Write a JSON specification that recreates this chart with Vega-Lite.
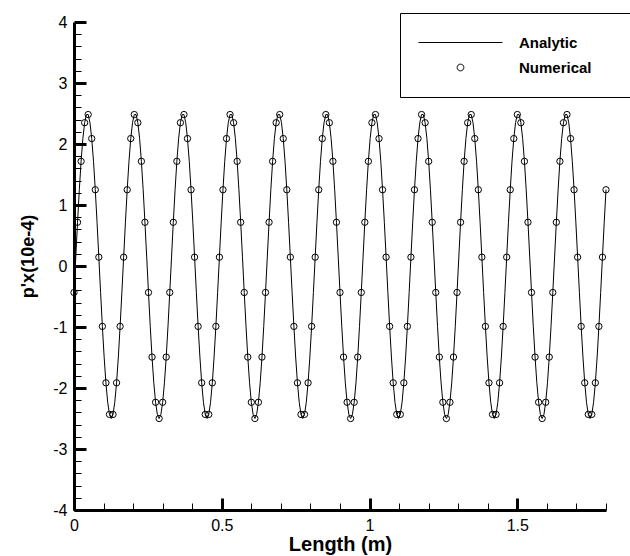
{
  "$schema": "https://vega.github.io/schema/vega-lite/v6.json",
  "width": 532,
  "height": 488,
  "autosize": {"type": "none"},
  "padding": {"left": 74, "top": 22, "right": 24, "bottom": 46},
  "background": "white",
  "config": {"view": {"stroke": null}, "font": "Liberation Sans"},
  "datasets": {
    "analytic": [
      {"x":0,"y":-0.434},{"x":0.006,"y":0.145},{"x":0.012,"y":0.717},{"x":0.018,"y":1.25},{"x":0.024,"y":1.716},{"x":0.03,"y":2.089},{"x":0.036,"y":2.349},{"x":0.042,"y":2.483},{"x":0.048,"y":2.483},{"x":0.054,"y":2.349},{"x":0.06,"y":2.089},{"x":0.066,"y":1.716},{"x":0.072,"y":1.25},{"x":0.078,"y":0.717},{"x":0.084,"y":0.145},{"x":0.09,"y":-0.434},{"x":0.096,"y":-0.99},{"x":0.102,"y":-1.493},{"x":0.108,"y":-1.915},{"x":0.114,"y":-2.234},{"x":0.12,"y":-2.433},{"x":0.126,"y":-2.5},{"x":0.132,"y":-2.433},{"x":0.138,"y":-2.234},{"x":0.144,"y":-1.915},{"x":0.15,"y":-1.493},{"x":0.156,"y":-0.99},
      {"x":0.162,"y":-0.434},{"x":0.168,"y":0.145},{"x":0.174,"y":0.717},{"x":0.18,"y":1.25},{"x":0.186,"y":1.716},{"x":0.192,"y":2.089},{"x":0.198,"y":2.349},{"x":0.204,"y":2.483},{"x":0.21,"y":2.483},{"x":0.216,"y":2.349},{"x":0.222,"y":2.089},{"x":0.228,"y":1.716},{"x":0.234,"y":1.25},{"x":0.24,"y":0.717},{"x":0.246,"y":0.145},{"x":0.252,"y":-0.434},{"x":0.258,"y":-0.99},{"x":0.264,"y":-1.493},{"x":0.27,"y":-1.915},{"x":0.276,"y":-2.234},{"x":0.282,"y":-2.433},{"x":0.288,"y":-2.5},{"x":0.294,"y":-2.433},{"x":0.3,"y":-2.234},{"x":0.306,"y":-1.915},{"x":0.312,"y":-1.493},{"x":0.318,"y":-0.99},
      {"x":0.324,"y":-0.434},{"x":0.33,"y":0.145},{"x":0.336,"y":0.717},{"x":0.342,"y":1.25},{"x":0.348,"y":1.716},{"x":0.354,"y":2.089},{"x":0.36,"y":2.349},{"x":0.366,"y":2.483},{"x":0.372,"y":2.483},{"x":0.378,"y":2.349},{"x":0.384,"y":2.089},{"x":0.39,"y":1.716},{"x":0.396,"y":1.25},{"x":0.402,"y":0.717},{"x":0.408,"y":0.145},{"x":0.414,"y":-0.434},{"x":0.42,"y":-0.99},{"x":0.426,"y":-1.493},{"x":0.432,"y":-1.915},{"x":0.438,"y":-2.234},{"x":0.444,"y":-2.433},{"x":0.45,"y":-2.5},{"x":0.456,"y":-2.433},{"x":0.462,"y":-2.234},{"x":0.468,"y":-1.915},{"x":0.474,"y":-1.493},{"x":0.48,"y":-0.99},
      {"x":0.486,"y":-0.434},{"x":0.492,"y":0.145},{"x":0.498,"y":0.717},{"x":0.504,"y":1.25},{"x":0.51,"y":1.716},{"x":0.516,"y":2.089},{"x":0.522,"y":2.349},{"x":0.528,"y":2.483},{"x":0.534,"y":2.483},{"x":0.54,"y":2.349},{"x":0.546,"y":2.089},{"x":0.552,"y":1.716},{"x":0.558,"y":1.25},{"x":0.564,"y":0.717},{"x":0.57,"y":0.145},{"x":0.576,"y":-0.434},{"x":0.582,"y":-0.99},{"x":0.588,"y":-1.493},{"x":0.594,"y":-1.915},{"x":0.6,"y":-2.234},{"x":0.606,"y":-2.433},{"x":0.612,"y":-2.5},{"x":0.618,"y":-2.433},{"x":0.624,"y":-2.234},{"x":0.63,"y":-1.915},{"x":0.636,"y":-1.493},{"x":0.642,"y":-0.99},
      {"x":0.648,"y":-0.434},{"x":0.654,"y":0.145},{"x":0.66,"y":0.717},{"x":0.666,"y":1.25},{"x":0.672,"y":1.716},{"x":0.678,"y":2.089},{"x":0.684,"y":2.349},{"x":0.69,"y":2.483},{"x":0.696,"y":2.483},{"x":0.702,"y":2.349},{"x":0.708,"y":2.089},{"x":0.714,"y":1.716},{"x":0.72,"y":1.25},{"x":0.726,"y":0.717},{"x":0.732,"y":0.145},{"x":0.738,"y":-0.434},{"x":0.744,"y":-0.99},{"x":0.75,"y":-1.493},{"x":0.756,"y":-1.915},{"x":0.762,"y":-2.234},{"x":0.768,"y":-2.433},{"x":0.774,"y":-2.5},{"x":0.78,"y":-2.433},{"x":0.786,"y":-2.234},{"x":0.792,"y":-1.915},{"x":0.798,"y":-1.493},{"x":0.804,"y":-0.99},
      {"x":0.81,"y":-0.434},{"x":0.816,"y":0.145},{"x":0.822,"y":0.717},{"x":0.828,"y":1.25},{"x":0.834,"y":1.716},{"x":0.84,"y":2.089},{"x":0.846,"y":2.349},{"x":0.852,"y":2.483},{"x":0.858,"y":2.483},{"x":0.864,"y":2.349},{"x":0.87,"y":2.089},{"x":0.876,"y":1.716},{"x":0.882,"y":1.25},{"x":0.888,"y":0.717},{"x":0.894,"y":0.145},{"x":0.9,"y":-0.434},{"x":0.906,"y":-0.99},{"x":0.912,"y":-1.493},{"x":0.918,"y":-1.915},{"x":0.924,"y":-2.234},{"x":0.93,"y":-2.433},{"x":0.936,"y":-2.5},{"x":0.942,"y":-2.433},{"x":0.948,"y":-2.234},{"x":0.954,"y":-1.915},{"x":0.96,"y":-1.493},{"x":0.966,"y":-0.99},
      {"x":0.972,"y":-0.434},{"x":0.978,"y":0.145},{"x":0.984,"y":0.717},{"x":0.99,"y":1.25},{"x":0.996,"y":1.716},{"x":1.002,"y":2.089},{"x":1.008,"y":2.349},{"x":1.014,"y":2.483},{"x":1.02,"y":2.483},{"x":1.026,"y":2.349},{"x":1.032,"y":2.089},{"x":1.038,"y":1.716},{"x":1.044,"y":1.25},{"x":1.05,"y":0.717},{"x":1.056,"y":0.145},{"x":1.062,"y":-0.434},{"x":1.068,"y":-0.99},{"x":1.074,"y":-1.493},{"x":1.08,"y":-1.915},{"x":1.086,"y":-2.234},{"x":1.092,"y":-2.433},{"x":1.098,"y":-2.5},{"x":1.104,"y":-2.433},{"x":1.11,"y":-2.234},{"x":1.116,"y":-1.915},{"x":1.122,"y":-1.493},{"x":1.128,"y":-0.99},
      {"x":1.134,"y":-0.434},{"x":1.14,"y":0.145},{"x":1.146,"y":0.717},{"x":1.152,"y":1.25},{"x":1.158,"y":1.716},{"x":1.164,"y":2.089},{"x":1.17,"y":2.349},{"x":1.176,"y":2.483},{"x":1.182,"y":2.483},{"x":1.188,"y":2.349},{"x":1.194,"y":2.089},{"x":1.2,"y":1.716},{"x":1.206,"y":1.25},{"x":1.212,"y":0.717},{"x":1.218,"y":0.145},{"x":1.224,"y":-0.434},{"x":1.23,"y":-0.99},{"x":1.236,"y":-1.493},{"x":1.242,"y":-1.915},{"x":1.248,"y":-2.234},{"x":1.254,"y":-2.433},{"x":1.26,"y":-2.5},{"x":1.266,"y":-2.433},{"x":1.272,"y":-2.234},{"x":1.278,"y":-1.915},{"x":1.284,"y":-1.493},{"x":1.29,"y":-0.99},
      {"x":1.296,"y":-0.434},{"x":1.302,"y":0.145},{"x":1.308,"y":0.717},{"x":1.314,"y":1.25},{"x":1.32,"y":1.716},{"x":1.326,"y":2.089},{"x":1.332,"y":2.349},{"x":1.338,"y":2.483},{"x":1.344,"y":2.483},{"x":1.35,"y":2.349},{"x":1.356,"y":2.089},{"x":1.362,"y":1.716},{"x":1.368,"y":1.25},{"x":1.374,"y":0.717},{"x":1.38,"y":0.145},{"x":1.386,"y":-0.434},{"x":1.392,"y":-0.99},{"x":1.398,"y":-1.493},{"x":1.404,"y":-1.915},{"x":1.41,"y":-2.234},{"x":1.416,"y":-2.433},{"x":1.422,"y":-2.5},{"x":1.428,"y":-2.433},{"x":1.434,"y":-2.234},{"x":1.44,"y":-1.915},{"x":1.446,"y":-1.493},{"x":1.452,"y":-0.99},
      {"x":1.458,"y":-0.434},{"x":1.464,"y":0.145},{"x":1.47,"y":0.717},{"x":1.476,"y":1.25},{"x":1.482,"y":1.716},{"x":1.488,"y":2.089},{"x":1.494,"y":2.349},{"x":1.5,"y":2.483},{"x":1.506,"y":2.483},{"x":1.512,"y":2.349},{"x":1.518,"y":2.089},{"x":1.524,"y":1.716},{"x":1.53,"y":1.25},{"x":1.536,"y":0.717},{"x":1.542,"y":0.145},{"x":1.548,"y":-0.434},{"x":1.554,"y":-0.99},{"x":1.56,"y":-1.493},{"x":1.566,"y":-1.915},{"x":1.572,"y":-2.234},{"x":1.578,"y":-2.433},{"x":1.584,"y":-2.5},{"x":1.59,"y":-2.433},{"x":1.596,"y":-2.234},{"x":1.602,"y":-1.915},{"x":1.608,"y":-1.493},{"x":1.614,"y":-0.99},
      {"x":1.62,"y":-0.434},{"x":1.626,"y":0.145},{"x":1.632,"y":0.717},{"x":1.638,"y":1.25},{"x":1.644,"y":1.716},{"x":1.65,"y":2.089},{"x":1.656,"y":2.349},{"x":1.662,"y":2.483},{"x":1.668,"y":2.483},{"x":1.674,"y":2.349},{"x":1.68,"y":2.089},{"x":1.686,"y":1.716},{"x":1.692,"y":1.25},{"x":1.698,"y":0.717},{"x":1.704,"y":0.145},{"x":1.71,"y":-0.434},{"x":1.716,"y":-0.99},{"x":1.722,"y":-1.493},{"x":1.728,"y":-1.915},{"x":1.734,"y":-2.234},{"x":1.74,"y":-2.433},{"x":1.746,"y":-2.5},{"x":1.752,"y":-2.433},{"x":1.758,"y":-2.234},{"x":1.764,"y":-1.915},{"x":1.77,"y":-1.493},{"x":1.776,"y":-0.99},
      {"x":1.782,"y":-0.434},{"x":1.788,"y":0.145},{"x":1.794,"y":0.717},{"x":1.8,"y":1.25}
    ],
    "numerical": [
      {"x":0,"y":-0.434},{"x":0.012,"y":0.717},{"x":0.024,"y":1.716},{"x":0.036,"y":2.349},{"x":0.048,"y":2.483},{"x":0.06,"y":2.089},{"x":0.072,"y":1.25},{"x":0.084,"y":0.145},{"x":0.096,"y":-0.99},{"x":0.108,"y":-1.915},{"x":0.12,"y":-2.433},{"x":0.132,"y":-2.433},{"x":0.144,"y":-1.915},{"x":0.156,"y":-0.99},{"x":0.168,"y":0.145},{"x":0.18,"y":1.25},{"x":0.192,"y":2.089},{"x":0.204,"y":2.483},{"x":0.216,"y":2.349},{"x":0.228,"y":1.716},{"x":0.24,"y":0.717},{"x":0.252,"y":-0.434},{"x":0.264,"y":-1.493},{"x":0.276,"y":-2.234},{"x":0.288,"y":-2.5},{"x":0.3,"y":-2.234},{"x":0.312,"y":-1.493},
      {"x":0.324,"y":-0.434},{"x":0.336,"y":0.717},{"x":0.348,"y":1.716},{"x":0.36,"y":2.349},{"x":0.372,"y":2.483},{"x":0.384,"y":2.089},{"x":0.396,"y":1.25},{"x":0.408,"y":0.145},{"x":0.42,"y":-0.99},{"x":0.432,"y":-1.915},{"x":0.444,"y":-2.433},{"x":0.456,"y":-2.433},{"x":0.468,"y":-1.915},{"x":0.48,"y":-0.99},{"x":0.492,"y":0.145},{"x":0.504,"y":1.25},{"x":0.516,"y":2.089},{"x":0.528,"y":2.483},{"x":0.54,"y":2.349},{"x":0.552,"y":1.716},{"x":0.564,"y":0.717},{"x":0.576,"y":-0.434},{"x":0.588,"y":-1.493},{"x":0.6,"y":-2.234},{"x":0.612,"y":-2.5},{"x":0.624,"y":-2.234},{"x":0.636,"y":-1.493},
      {"x":0.648,"y":-0.434},{"x":0.66,"y":0.717},{"x":0.672,"y":1.716},{"x":0.684,"y":2.349},{"x":0.696,"y":2.483},{"x":0.708,"y":2.089},{"x":0.72,"y":1.25},{"x":0.732,"y":0.145},{"x":0.744,"y":-0.99},{"x":0.756,"y":-1.915},{"x":0.768,"y":-2.433},{"x":0.78,"y":-2.433},{"x":0.792,"y":-1.915},{"x":0.804,"y":-0.99},{"x":0.816,"y":0.145},{"x":0.828,"y":1.25},{"x":0.84,"y":2.089},{"x":0.852,"y":2.483},{"x":0.864,"y":2.349},{"x":0.876,"y":1.716},{"x":0.888,"y":0.717},{"x":0.9,"y":-0.434},{"x":0.912,"y":-1.493},{"x":0.924,"y":-2.234},{"x":0.936,"y":-2.5},{"x":0.948,"y":-2.234},{"x":0.96,"y":-1.493},
      {"x":0.972,"y":-0.434},{"x":0.984,"y":0.717},{"x":0.996,"y":1.716},{"x":1.008,"y":2.349},{"x":1.02,"y":2.483},{"x":1.032,"y":2.089},{"x":1.044,"y":1.25},{"x":1.056,"y":0.145},{"x":1.068,"y":-0.99},{"x":1.08,"y":-1.915},{"x":1.092,"y":-2.433},{"x":1.104,"y":-2.433},{"x":1.116,"y":-1.915},{"x":1.128,"y":-0.99},{"x":1.14,"y":0.145},{"x":1.152,"y":1.25},{"x":1.164,"y":2.089},{"x":1.176,"y":2.483},{"x":1.188,"y":2.349},{"x":1.2,"y":1.716},{"x":1.212,"y":0.717},{"x":1.224,"y":-0.434},{"x":1.236,"y":-1.493},{"x":1.248,"y":-2.234},{"x":1.26,"y":-2.5},{"x":1.272,"y":-2.234},{"x":1.284,"y":-1.493},
      {"x":1.296,"y":-0.434},{"x":1.308,"y":0.717},{"x":1.32,"y":1.716},{"x":1.332,"y":2.349},{"x":1.344,"y":2.483},{"x":1.356,"y":2.089},{"x":1.368,"y":1.25},{"x":1.38,"y":0.145},{"x":1.392,"y":-0.99},{"x":1.404,"y":-1.915},{"x":1.416,"y":-2.433},{"x":1.428,"y":-2.433},{"x":1.44,"y":-1.915},{"x":1.452,"y":-0.99},{"x":1.464,"y":0.145},{"x":1.476,"y":1.25},{"x":1.488,"y":2.089},{"x":1.5,"y":2.483},{"x":1.512,"y":2.349},{"x":1.524,"y":1.716},{"x":1.536,"y":0.717},{"x":1.548,"y":-0.434},{"x":1.56,"y":-1.493},{"x":1.572,"y":-2.234},{"x":1.584,"y":-2.5},{"x":1.596,"y":-2.234},{"x":1.608,"y":-1.493},
      {"x":1.62,"y":-0.434},{"x":1.632,"y":0.717},{"x":1.644,"y":1.716},{"x":1.656,"y":2.349},{"x":1.668,"y":2.483},{"x":1.68,"y":2.089},{"x":1.692,"y":1.25},{"x":1.704,"y":0.145},{"x":1.716,"y":-0.99},{"x":1.728,"y":-1.915},{"x":1.74,"y":-2.433},{"x":1.752,"y":-2.433},{"x":1.764,"y":-1.915},{"x":1.776,"y":-0.99},{"x":1.788,"y":0.145},{"x":1.8,"y":1.25}
    ]
  },
  "encoding": {
    "x": {
      "field": "x", "type": "quantitative",
      "scale": {"domain": [0, 1.8], "nice": false, "zero": false},
      "axis": {
        "title": "Length (m)",
        "values": [0,0.1,0.2,0.3,0.4,0.5,0.6,0.7,0.8,0.9,1,1.1,1.2,1.3,1.4,1.5,1.6,1.7,1.8],
        "grid": false,
        "domainColor": "black", "domainWidth": 3,
        "tickColor": "black",
        "tickSize": {"condition": {"test": "abs(datum.value*2 - round(datum.value*2)) < 0.001", "value": -12}, "value": -7},
        "tickWidth": {"condition": {"test": "abs(datum.value*2 - round(datum.value*2)) < 0.001", "value": 3}, "value": 1},
        "labelExpr": "abs(datum.value*2 - round(datum.value*2)) < 0.001 ? toString(datum.value) : ''",
        "labelFlush": false, "labelOverlap": false,
        "labelPadding": 19,
        "labelFont": "Liberation Sans", "labelFontSize": 16, "labelColor": "black",
        "titleFont": "Liberation Sans", "titleFontSize": 20, "titleFontWeight": "bold", "titleColor": "black",
        "titleBaseline": "alphabetic", "titleX": 266, "titleY": 40
      }
    },
    "y": {
      "field": "y", "type": "quantitative",
      "scale": {"domain": [-4, 4], "nice": false, "zero": false},
      "axis": {
        "title": "p'x(10e-4)",
        "values": [-4,-3.8,-3.6,-3.4,-3.2,-3,-2.8,-2.6,-2.4,-2.2,-2,-1.8,-1.6,-1.4,-1.2,-1,-0.8,-0.6,-0.4,-0.2,0,0.2,0.4,0.6,0.8,1,1.2,1.4,1.6,1.8,2,2.2,2.4,2.6,2.8,3,3.2,3.4,3.6,3.8,4],
        "grid": false,
        "domainColor": "black", "domainWidth": 3,
        "tickColor": "black",
        "tickSize": {"condition": {"test": "abs(datum.value - round(datum.value)) < 0.001", "value": -12}, "value": -7},
        "tickWidth": {"condition": {"test": "abs(datum.value - round(datum.value)) < 0.001", "value": 3}, "value": 1},
        "labelExpr": "abs(datum.value - round(datum.value)) < 0.001 ? toString(datum.value) : ''",
        "labelFlush": false, "labelOverlap": false,
        "labelPadding": 19,
        "labelFont": "Liberation Sans", "labelFontSize": 16, "labelColor": "black",
        "titleFont": "Liberation Sans", "titleFontSize": 18, "titleFontWeight": "bold", "titleColor": "black",
        "titleAngle": -90, "titleAlign": "center", "titleBaseline": "alphabetic",
        "titleX": -41, "titleY": 234
      }
    }
  },
  "layer": [
    {
      "data": {"name": "analytic"},
      "mark": {"type": "line", "color": "black", "strokeWidth": 1}
    },
    {
      "data": {"name": "numerical"},
      "mark": {"type": "point", "shape": "circle", "filled": false, "color": "black", "strokeWidth": 1, "size": 40, "opacity": 1}
    },
    {
      "data": {"values": [{"series": "Analytic"}, {"series": "Numerical"}]},
      "mark": {"type": "point", "size": 0, "color": "black", "filled": false},
      "encoding": {
        "x": {"datum": 0.9, "type": "quantitative"},
        "y": {"datum": 0, "type": "quantitative"},
        "shape": {
          "field": "series", "type": "nominal",
          "scale": {"domain": ["Analytic", "Numerical"], "range": ["M-1,0H1", "M-0.08,0A0.08,0.08,0,1,0,0.08,0A0.08,0.08,0,1,0,-0.08,0Z"]},
          "legend": {
            "title": null, "orient": "none", "legendX": 326, "legendY": -9,
            "strokeColor": "black", "fillColor": "white", "padding": 18,
            "symbolSize": 7056, "symbolStrokeColor": "black", "symbolFillColor": "white",
            "symbolStrokeWidth": 1, "symbolOpacity": 1,
            "clipHeight": 23, "rowPadding": 2,
            "labelFont": "Liberation Sans", "labelFontSize": 15, "labelFontWeight": "bold", "labelColor": "black",
            "labelOffset": 16, "labelExpr": "datum.label + '\u00a0\u00a0\u00a0\u00a0\u00a0\u200b'"
          }
        }
      }
    }
  ]
}
